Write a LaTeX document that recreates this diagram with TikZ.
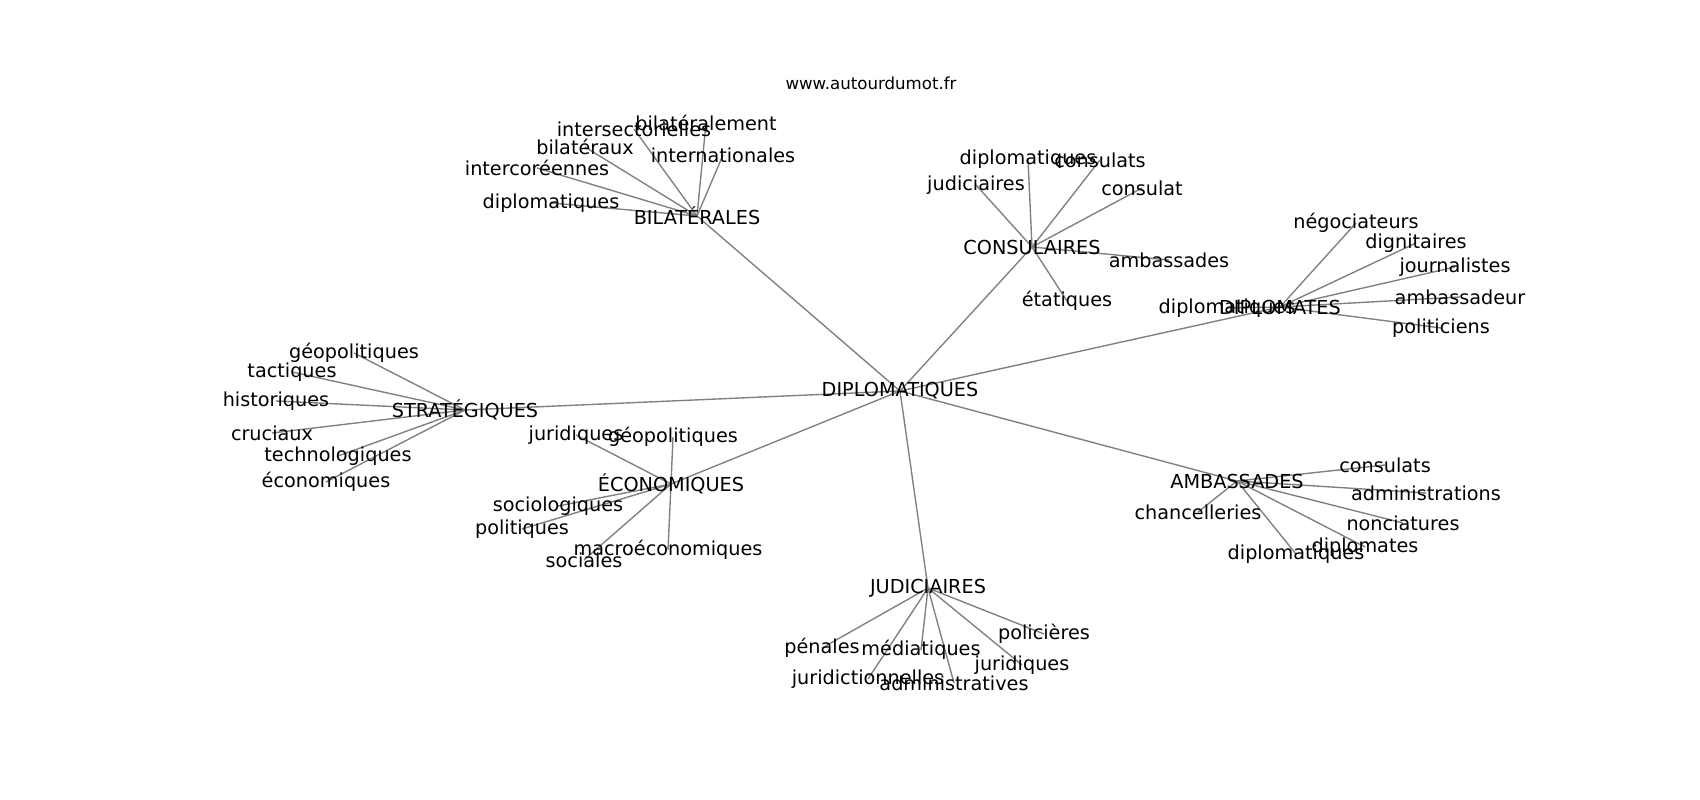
\documentclass[tikz,border=0pt]{standalone}
\usepackage{fontspec}
\setmainfont{DejaVu Sans}
\usetikzlibrary{backgrounds}
\begin{document}
\begin{tikzpicture}[
    x=0.01in, y=-0.01in,
    every node/.style={align=center, inner sep=0pt, font=\fontsize{13.9}{16.7}\selectfont},
    title label/.style={font=\fontsize{12}{14.4}\selectfont},
    gray line/.style={draw, gray, line width=1pt},
    ]
\useasboundingbox (0,0) rectangle (1700,800);
\node[title label] (title) at (871,83) {www.autourdumot.fr};
% hubs
\node (Diplomatiques) at (900,391) {DIPLOMATIQUES};
\node (Bilaterales) at (697,216) {BILATÉRALES};
\node (Consulaires) at (1032,247) {CONSULAIRES};
\node (Diplomates) at (1280,307) {DIPLOMATES};
\node (Strategiques) at (465,410) {STRATÉGIQUES};
\node (Economiques) at (671,484) {ÉCONOMIQUES};
\node (Judiciaires) at (928,588) {JUDICIAIRES};
\node (Ambassades) at (1237,481) {AMBASSADES};
% bilaterales
\node (bilateralement) at (706,123) {bilatéralement};
\node (intersectorielles) at (634,129) {intersectorielles};
\node (bilateraux) at (585,147) {bilatéraux};
\node (internationales) at (723,155) {internationales};
\node (intercoreennes) at (537,168) {intercoréennes};
\node (diplomatiquesB) at (551,203) {diplomatiques};
% consulaires
\node (diplomatiquesC) at (1028,159) {diplomatiques};
\node (consulatsC) at (1100,160) {consulats};
\node (judiciaires) at (976,185) {judiciaires};
\node (consulat) at (1142,188) {consulat};
\node (ambassades) at (1169,260) {ambassades};
\node (etatiques) at (1067,301) {étatiques};
% diplomates
\node (negociateurs) at (1356,223) {négociateurs};
\node (dignitaires) at (1416,243) {dignitaires};
\node (journalistes) at (1455,267) {journalistes};
\node (ambassadeur) at (1460,297) {ambassadeur};
\node (politiciens) at (1441,328) {politiciens};
\node (diplomatiquesD) at (1227,308) {diplomatiques};
% strategiques
\node (geopolitiquesS) at (354,353) {géopolitiques};
\node (tactiques) at (292,372) {tactiques};
\node (historiques) at (276,401) {historiques};
\node (cruciaux) at (272,433) {cruciaux};
\node (technologiques) at (338,456) {technologiques};
\node (economiques) at (326,482) {économiques};
% economiques
\node (juridiquesE) at (576,435) {juridiques};
\node (geopolitiquesE) at (673,437) {géopolitiques};
\node (sociologiques) at (558,506) {sociologiques};
\node (politiques) at (522,529) {politiques};
\node (sociales) at (584,560) {sociales};
\node (macroeconomiques) at (668,550) {macroéconomiques};
% judiciaires
\node (penales) at (822,648) {pénales};
\node (mediatiques) at (921,650) {médiatiques};
\node (policieres) at (1044,634) {policières};
\node (juridiquesJ) at (1022,665) {juridiques};
\node (juridictionnelles) at (868,679) {juridictionnelles};
\node (administratives) at (954,683) {administratives};
% ambassades
\node (consulatsA) at (1385,465) {consulats};
\node (administrations) at (1426,493) {administrations};
\node (chancelleries) at (1198,512) {chancelleries};
\node (nonciatures) at (1403,523) {nonciatures};
\node (diplomates) at (1365,547) {diplomates};
\node (diplomatiquesA) at (1296,554) {diplomatiques};
\begin{scope}[on background layer]
\draw[gray line] (Diplomatiques.center) -- (Bilaterales.center);
\draw[gray line] (Diplomatiques.center) -- (Consulaires.center);
\draw[gray line] (Diplomatiques.center) -- (Diplomates.center);
\draw[gray line] (Diplomatiques.center) -- (Strategiques.center);
\draw[gray line] (Diplomatiques.center) -- (Economiques.center);
\draw[gray line] (Diplomatiques.center) -- (Judiciaires.center);
\draw[gray line] (Diplomatiques.center) -- (Ambassades.center);
\draw[gray line] (Bilaterales.center) -- (bilateralement.center);
\draw[gray line] (Bilaterales.center) -- (intersectorielles.center);
\draw[gray line] (Bilaterales.center) -- (bilateraux.center);
\draw[gray line] (Bilaterales.center) -- (internationales.center);
\draw[gray line] (Bilaterales.center) -- (intercoreennes.center);
\draw[gray line] (Bilaterales.center) -- (diplomatiquesB.center);
\draw[gray line] (Consulaires.center) -- (diplomatiquesC.center);
\draw[gray line] (Consulaires.center) -- (consulatsC.center);
\draw[gray line] (Consulaires.center) -- (judiciaires.center);
\draw[gray line] (Consulaires.center) -- (consulat.center);
\draw[gray line] (Consulaires.center) -- (ambassades.center);
\draw[gray line] (Consulaires.center) -- (etatiques.center);
\draw[gray line] (Diplomates.center) -- (negociateurs.center);
\draw[gray line] (Diplomates.center) -- (dignitaires.center);
\draw[gray line] (Diplomates.center) -- (journalistes.center);
\draw[gray line] (Diplomates.center) -- (ambassadeur.center);
\draw[gray line] (Diplomates.center) -- (politiciens.center);
\draw[gray line] (Diplomates.center) -- (diplomatiquesD.center);
\draw[gray line] (Strategiques.center) -- (geopolitiquesS.center);
\draw[gray line] (Strategiques.center) -- (tactiques.center);
\draw[gray line] (Strategiques.center) -- (historiques.center);
\draw[gray line] (Strategiques.center) -- (cruciaux.center);
\draw[gray line] (Strategiques.center) -- (technologiques.center);
\draw[gray line] (Strategiques.center) -- (economiques.center);
\draw[gray line] (Economiques.center) -- (juridiquesE.center);
\draw[gray line] (Economiques.center) -- (geopolitiquesE.center);
\draw[gray line] (Economiques.center) -- (sociologiques.center);
\draw[gray line] (Economiques.center) -- (politiques.center);
\draw[gray line] (Economiques.center) -- (sociales.center);
\draw[gray line] (Economiques.center) -- (macroeconomiques.center);
\draw[gray line] (Judiciaires.center) -- (penales.center);
\draw[gray line] (Judiciaires.center) -- (mediatiques.center);
\draw[gray line] (Judiciaires.center) -- (policieres.center);
\draw[gray line] (Judiciaires.center) -- (juridiquesJ.center);
\draw[gray line] (Judiciaires.center) -- (juridictionnelles.center);
\draw[gray line] (Judiciaires.center) -- (administratives.center);
\draw[gray line] (Ambassades.center) -- (consulatsA.center);
\draw[gray line] (Ambassades.center) -- (administrations.center);
\draw[gray line] (Ambassades.center) -- (chancelleries.center);
\draw[gray line] (Ambassades.center) -- (nonciatures.center);
\draw[gray line] (Ambassades.center) -- (diplomates.center);
\draw[gray line] (Ambassades.center) -- (diplomatiquesA.center);
\end{scope}
\end{tikzpicture}
\end{document}
